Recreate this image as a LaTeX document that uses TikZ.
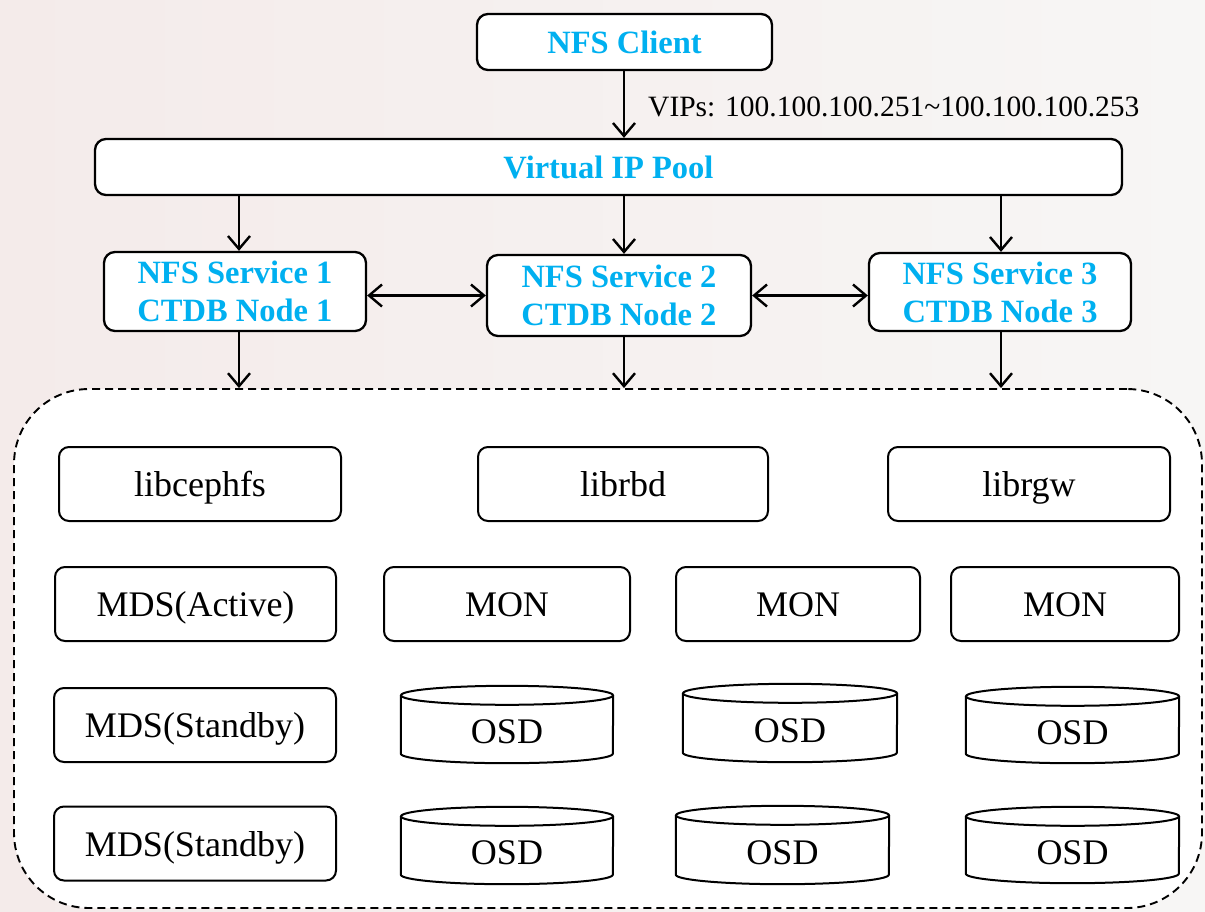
\documentclass[tikz,border=0pt]{standalone}
\usepackage{fontspec}
\setmainfont{Liberation Serif}
\usetikzlibrary{arrows.meta}
\definecolor{nfsblue}{RGB}{0,176,240}
\definecolor{bgleft}{RGB}{244,235,234}
\definecolor{bgright}{RGB}{247,246,245}
\begin{document}
\begin{tikzpicture}[x=1pt,y=-1pt,
  topbox/.style={draw, line width=2.3pt, rounded corners=11pt, fill=white, inner sep=0pt, align=center,
    text=nfsblue, font=\fontsize{32.5}{38}\selectfont\bfseries},
  inbox/.style={draw, line width=2pt, rounded corners=10pt, fill=white, inner sep=0pt,
    minimum height=74pt, text height=25pt, text depth=0pt, font=\fontsize{36}{40}\selectfont},
  disk/.style={inner sep=0pt, text height=38pt, text depth=0pt, font=\fontsize{36}{40}\selectfont},
  cyl/.style={line width=2pt},
  tipb/.tip={Straight Barb[length=13pt,width=22pt,line width=2.4pt]},
  arr/.style={line width=2.4pt, -tipb},
  biarr/.style={line width=2.4pt, tipb-tipb}]
\useasboundingbox (0,0) rectangle (1205,911);
\fill[left color=bgleft, right color=bgright] (0,0) rectangle (1205,911);

% container
\node[draw, dash pattern=on 8pt off 5pt, line width=1.9pt, rounded corners=75pt, fill=white,
  minimum width=1188pt, minimum height=519pt, inner sep=0pt] (ceph) at (608,648.5) {};

% top nodes
\node[topbox, minimum width=295pt, minimum height=56pt] (client) at (624.5,42) {NFS Client};
\node[topbox, minimum width=1027pt, minimum height=56pt] (pool) at (608.5,167) {Virtual IP Pool};
\node[topbox, minimum width=262pt, minimum height=79pt] (s1) at (235,291.5) {NFS Service 1\\CTDB Node 1};
\node[topbox, minimum width=264pt, minimum height=81pt] (s2) at (619,295.5) {NFS Service 2\\CTDB Node 2};
\node[topbox, minimum width=262pt, minimum height=78pt] (s3) at (1000,292) {NFS Service 3\\CTDB Node 3};
\node[anchor=base west, inner sep=0pt, font=\fontsize{29.5}{34}\selectfont] (vip) at (648,116)
  {VIPs: 100.100.100.251\textasciitilde100.100.100.253};

\coordinate (c1) at (239,0);
\coordinate (c2) at (624,0);
\coordinate (c3) at (1001,0);

\draw[arr] (c2 |- client.south) -- (c2 |- pool.north);
\draw[arr] (c1 |- pool.south) -- (c1 |- s1.north);
\draw[arr] (c2 |- pool.south) -- (c2 |- s2.north);
\draw[arr] (c3 |- pool.south) -- (c3 |- s3.north);
\draw[biarr] (s1.east |- s2.west) -- (s2.west);
\draw[biarr] (s2.east) -- (s3.west |- s2.east);
\draw[arr] (c1 |- s1.south) -- (c1 |- ceph.north);
\draw[arr] (c2 |- s2.south) -- (c2 |- ceph.north);
\draw[arr] (c3 |- s3.south) -- (c3 |- ceph.north);

% libraries
\node[inbox, minimum width=282pt] (libcephfs) at (200,484) {libcephfs};
\node[inbox, minimum width=290pt] (librbd) at (623,484) {librbd};
\node[inbox, minimum width=282pt] (librgw) at (1029,484) {librgw};

% MDS / MON
\node[inbox, minimum width=281pt] (mdsa) at (195.5,604) {MDS(Active)};
\node[inbox, minimum width=246pt] (mon1) at (507,604) {MON};
\node[inbox, minimum width=244pt] (mon2) at (798,604) {MON};
\node[inbox, minimum width=228pt] (mon3) at (1065,604) {MON};
\node[inbox, minimum width=282pt] (mdss1) at (195,725) {MDS(Standby)};
\node[inbox, minimum width=282pt] (mdss2) at (195,843.5) {MDS(Standby)};

% OSD disks
\node[disk, minimum width=212pt, minimum height=77pt] (o11) at (507,724.5) {OSD};
\node[disk, minimum width=214pt, minimum height=78pt] (o12) at (790,723) {OSD};
\node[disk, minimum width=213pt, minimum height=76pt] (o13) at (1072.5,725) {OSD};
\node[disk, minimum width=212pt, minimum height=77pt] (o21) at (507,845.5) {OSD};
\node[disk, minimum width=213pt, minimum height=78pt] (o22) at (782.5,845) {OSD};
\node[disk, minimum width=213pt, minimum height=76pt] (o23) at (1072.5,845) {OSD};

\foreach \d/\r in {o11/106pt, o12/107pt, o13/106.5pt, o21/106pt, o22/106.5pt, o23/106.5pt}{
  \draw[cyl] ([yshift=-9.5pt]\d.north west) -- ([yshift=9.5pt]\d.south west)
    arc[start angle=180, end angle=360, x radius=\r, y radius=9.5pt]
    -- ([yshift=-9.5pt]\d.north east);
  \draw[cyl] ([yshift=-9.5pt]\d.north) ellipse [x radius=\r, y radius=9.5pt];
}
\end{tikzpicture}
\end{document}
